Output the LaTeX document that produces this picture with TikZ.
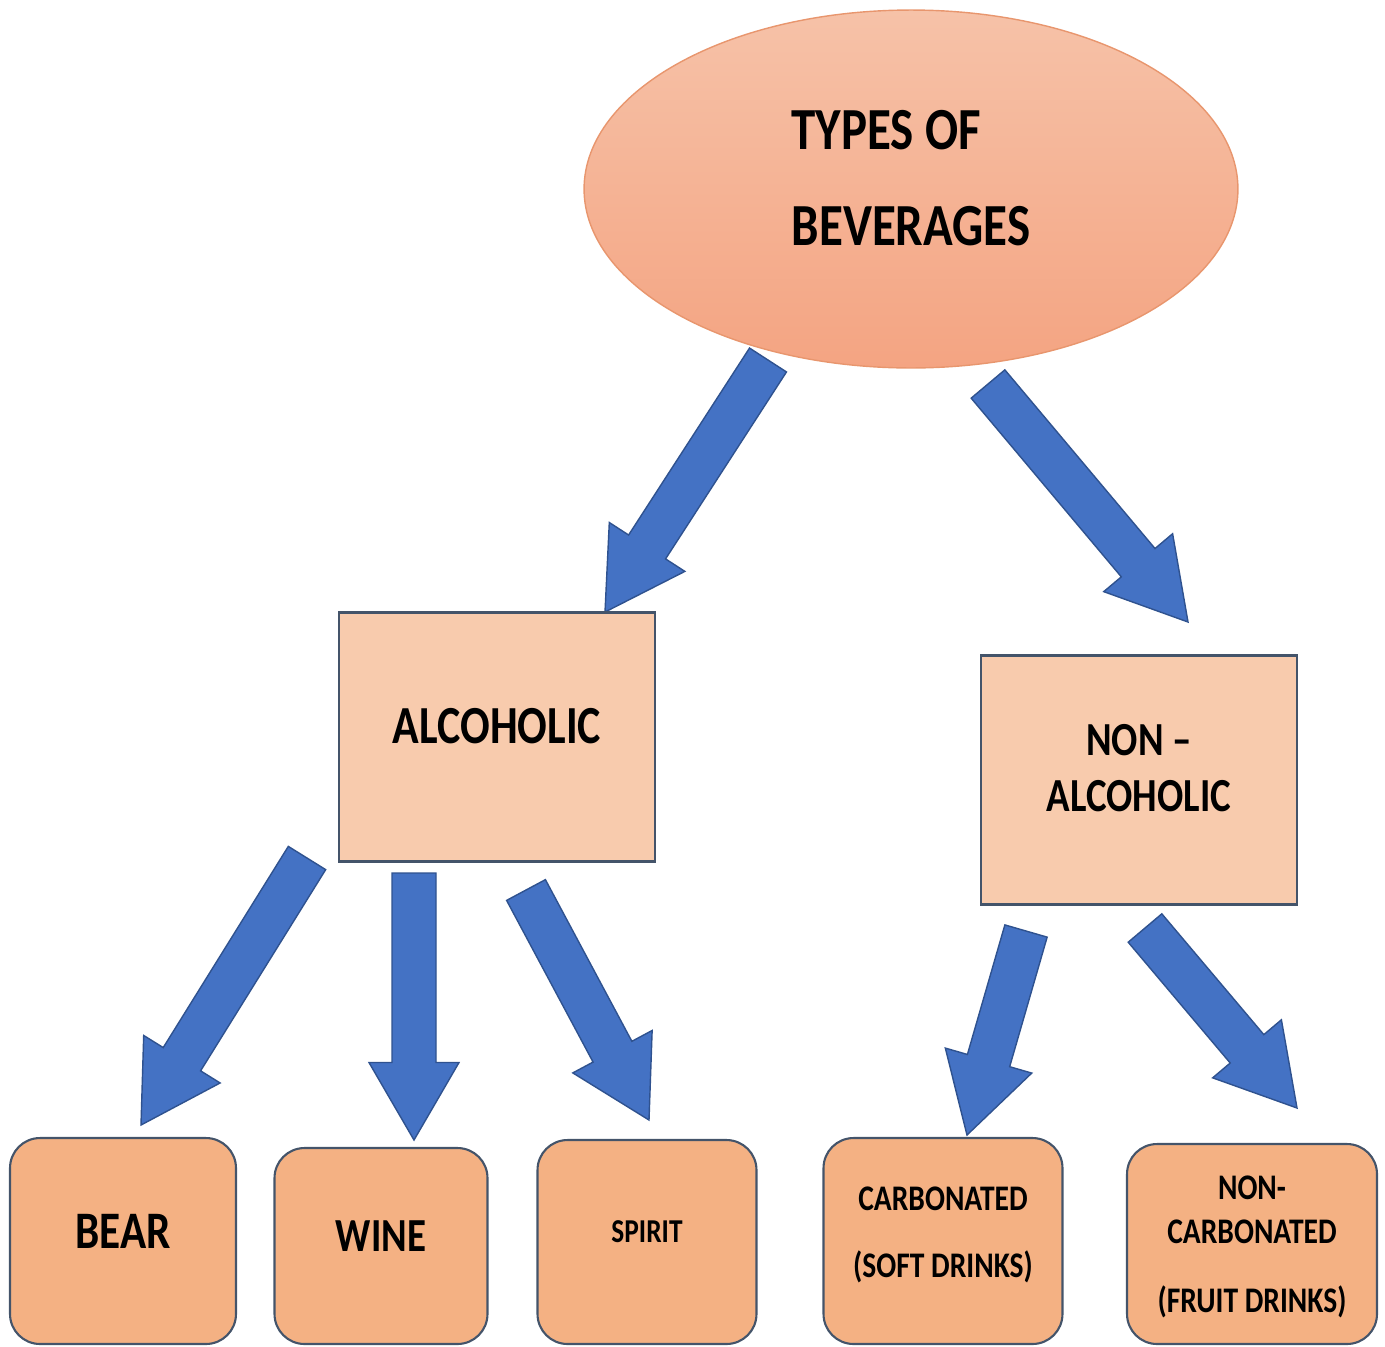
\documentclass[tikz,border=0pt]{standalone}
\usepackage{fontspec}
\setmainfont{Carlito}[FakeStretch=0.82]
\usepackage{tikz}
\usetikzlibrary{shapes.geometric,calc}
\definecolor{arrowblue}{RGB}{68,114,196}
\definecolor{arrowedge}{RGB}{47,82,143}
\definecolor{ovaltop}{RGB}{246,194,168}
\definecolor{ovalbottom}{RGB}{244,164,130}
\definecolor{ovaledge}{RGB}{232,150,110}
\definecolor{classfill}{RGB}{248,203,173}
\definecolor{kindfill}{RGB}{244,177,131}
\definecolor{boxedge}{RGB}{68,84,106}

\begin{document}
\begin{tikzpicture}[x=0.02cm, y=-0.02cm,
    blockarrow/.style={draw=arrowedge, fill=arrowblue, line width=0.8pt, line join=miter,
      to path={($(\tikztostart)!0.44cm!90:(\tikztotarget)$)
        -- ($($(\tikztotarget)!1.55cm!(\tikztostart)$)!0.44cm!90:(\tikztotarget)$)
        -- ($($(\tikztotarget)!1.55cm!(\tikztostart)$)!0.9cm!90:(\tikztotarget)$)
        -- (\tikztotarget)
        -- ($($(\tikztotarget)!1.55cm!(\tikztostart)$)!0.9cm!-90:(\tikztotarget)$)
        -- ($($(\tikztotarget)!1.55cm!(\tikztostart)$)!0.44cm!-90:(\tikztotarget)$)
        -- ($(\tikztostart)!0.44cm!-90:(\tikztotarget)$) -- cycle}},
    classbox/.style={draw=boxedge, line width=1.2pt, fill=classfill, minimum width=6.32cm,
      minimum height=4.98cm, align=center, font=\bfseries},
    kindbox/.style={draw=boxedge, line width=1.2pt, fill=kindfill, rounded corners=0.6cm,
      align=center, font=\bfseries, text depth=0.4cm}]
    \useasboundingbox (0,0) rectangle (1385,1346);

    % Arrow ends
    \coordinate (a1s) at (768,360);  \coordinate (a1e) at (605,612);
    \coordinate (a2s) at (988,384);  \coordinate (a2e) at (1188,622);
    \coordinate (a3s) at (307,858);  \coordinate (a3e) at (141,1125);
    \coordinate (a4s) at (414,873);  \coordinate (a4e) at (414,1140);
    \coordinate (a5s) at (526,890);  \coordinate (a5e) at (649,1120);
    \coordinate (a6s) at (1026,931); \coordinate (a6e) at (967,1135);
    \coordinate (a7s) at (1145,928); \coordinate (a7e) at (1297,1108);

    % Block arrows
    \draw[blockarrow] (a1s) to (a1e);
    \draw[blockarrow] (a2s) to (a2e);
    \draw[blockarrow] (a3s) to (a3e);
    \draw[blockarrow] (a4s) to (a4e);
    \draw[blockarrow] (a5s) to (a5e);
    \draw[blockarrow] (a6s) to (a6e);
    \draw[blockarrow] (a7s) to (a7e);

    % Types of beverages
    \node[ellipse, draw=ovaledge, line width=0.8pt, top color=ovaltop, bottom color=ovalbottom,
      minimum width=13.08cm, minimum height=7.16cm, align=left, text depth=0.44cm,
      font=\fontsize{34}{55}\selectfont\bfseries] (types) at (911,189) {TYPES OF\\BEVERAGES};

    % Alcoholic / non-alcoholic
    \node[classbox, text depth=0.44cm, font=\fontsize{30.5}{36}\selectfont\bfseries] (alco) at (497,737) {ALCOHOLIC};
    \node[classbox, text depth=0.48cm, font=\fontsize{27}{32}\selectfont\bfseries] (nonalco) at (1139,780) {NON --\\ALCOHOLIC};

    % Kinds
    \node[kindbox, minimum width=4.52cm, minimum height=4.12cm,
      font=\fontsize{30}{36}\selectfont\bfseries] (bear) at (123,1241) {BEAR};
    \node[kindbox, minimum width=4.26cm, minimum height=3.92cm,
      font=\fontsize{27}{32}\selectfont\bfseries] (wine) at (381,1246) {WINE};
    \node[kindbox, minimum width=4.38cm, minimum height=4.08cm,
      font=\fontsize{19}{23}\selectfont\bfseries] (spirit) at (647,1242) {SPIRIT};
    \node[kindbox, minimum width=4.78cm, minimum height=4.12cm, text depth=0.34cm,
      font=\fontsize{20.5}{38}\selectfont\bfseries] (carb) at (943,1241) {CARBONATED\\(SOFT DRINKS)};
    \node[kindbox, minimum width=5.0cm, minimum height=4.0cm, text depth=0pt,
      font=\fontsize{20.5}{25}\selectfont\bfseries] (noncarb) at (1252,1244) {NON-\\CARBONATED\\[14pt](FRUIT DRINKS)};
\end{tikzpicture}
\end{document}
